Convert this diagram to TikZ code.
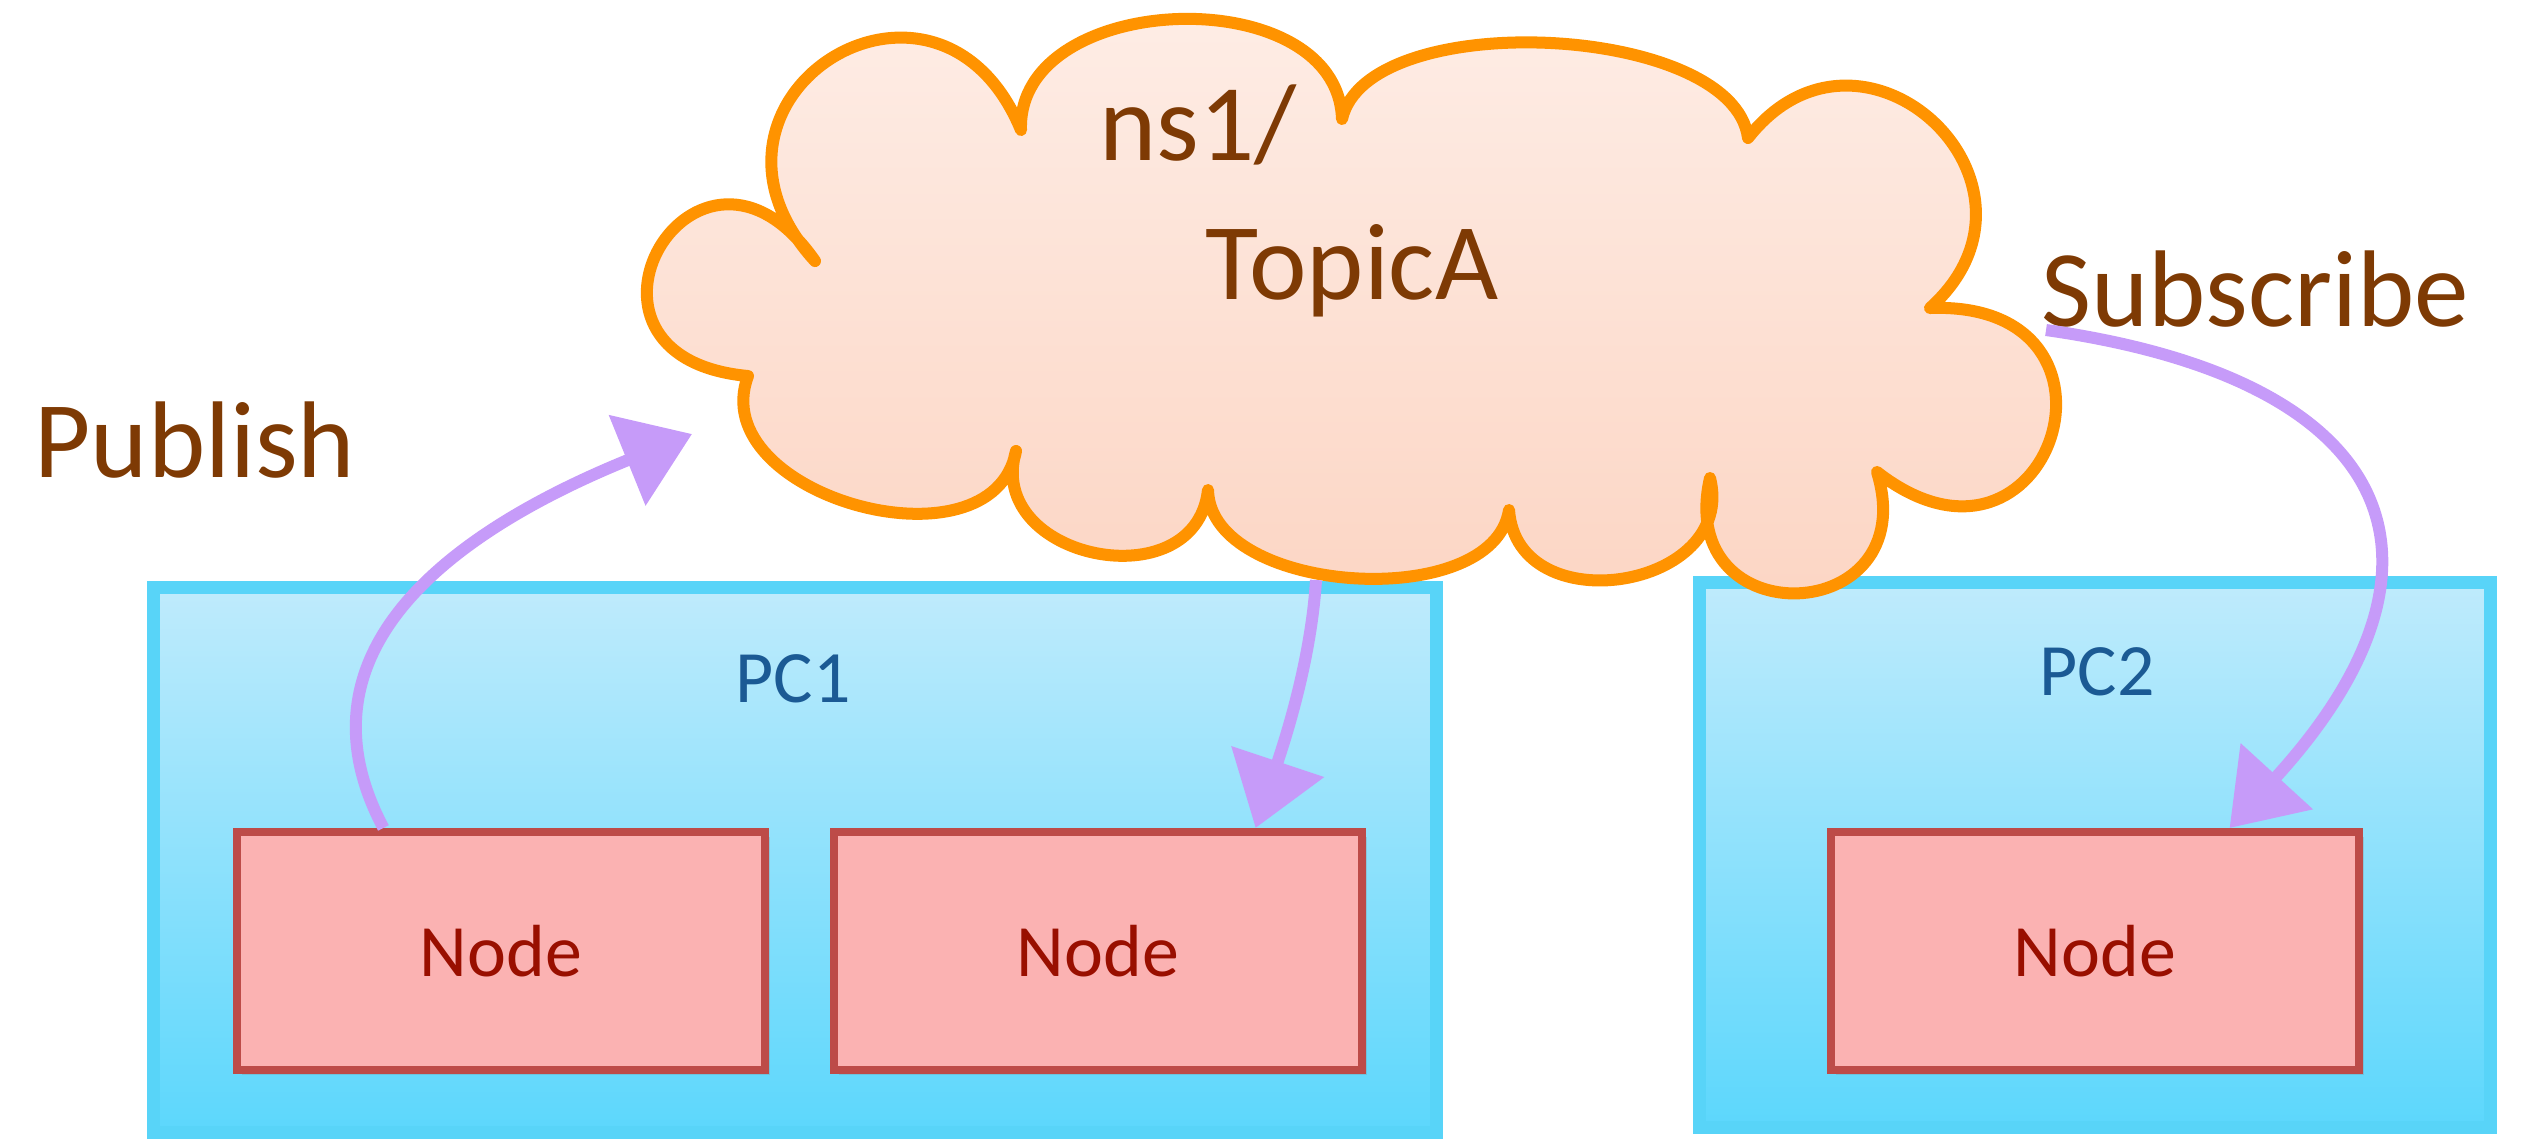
\documentclass[tikz,border=0pt]{standalone}
\usepackage{fontspec}
\setmainfont{Carlito}
\usetikzlibrary{arrows.meta, shadows}
\definecolor{pcline}{HTML}{58D4F8}
\definecolor{pctop}{HTML}{BFEBFC}
\definecolor{pcbottom}{HTML}{5CD7FC}
\definecolor{pctext}{HTML}{1B5A94}
\definecolor{nodeline}{HTML}{BD4B48}
\definecolor{nodefill}{HTML}{FBB2B2}
\definecolor{nodetext}{HTML}{990F00}
\definecolor{cloudline}{HTML}{FF9300}
\definecolor{cloudtop}{HTML}{FEF0EA}
\definecolor{cloudbottom}{HTML}{FCD4C2}
\definecolor{msgtext}{HTML}{7E3A04}
\definecolor{flowcol}{HTML}{C69BF9}

\begin{document}
\begin{tikzpicture}[x=0.01cm, y=-0.01cm,
	pcbox/.style={draw=pcline, line width=0.13cm, top color=pctop, bottom color=pcbottom, minimum height=5.45cm, drop shadow={opacity=0.15, shadow xshift=0.04cm, shadow yshift=-0.04cm}},
	nodebox/.style={draw=nodeline, line width=0.08cm, fill=nodefill, minimum width=5.27cm, minimum height=2.38cm, text=nodetext, font=\fontsize{21}{25}\selectfont, drop shadow={opacity=0.25, shadow xshift=0.05cm, shadow yshift=-0.05cm}},
	pclabel/.style={text=pctext, font=\fontsize{21}{25}\selectfont},
	topic/.style={draw=cloudline, line width=0.12cm, line join=round, top color=cloudtop, bottom color=cloudbottom},
	msg/.style={text=msgtext, font=\fontsize{31}{37}\selectfont, anchor=base},
	flow/.style={draw=flowcol, line width=0.12cm, -{Triangle[length=0.7cm, width=0.95cm]}}]
	\useasboundingbox (0,0) rectangle (2537,1144);
% draw PCs
	\node[pcbox, minimum width=12.83cm] (pc1) at (795,860) {};
	\node[pcbox, minimum width=7.9cm] (pc2) at (2095,855) {};
	\node[pclabel] (pc1label) at (793,679) {PC1};
	\node[pclabel] (pc2label) at (2097,672) {PC2};
% draw Nodes
	\node[nodebox] (node1) at (501,951) {Node};
	\node[nodebox] (node2) at (1098,951) {Node};
	\node[nodebox] (node3) at (2095,951) {Node};
% draw topic cloud
	\draw[topic] (1021,130) to[bend left=90, looseness=1.12] (1342,119)
		to[bend left=80, looseness=0.73] (1748,138)
		to[bend left=95, looseness=1.9] (1930,308)
		to[bend left=110, looseness=3.26] (1877,472)
		to[bend left=105, looseness=2.5] (1710,478)
		to[bend left=95, looseness=1.44] (1509,510)
		to[bend left=85, looseness=0.89] (1208,490)
		to[bend left=95, looseness=1.47] (1016,451)
		to[bend left=95, looseness=1.17] (748,376)
		to[bend left=115, looseness=4] (815,261)
		to[bend left=100, looseness=2.3] (1021,130) -- cycle;
	\coordinate (pubin) at (692,434);
	\coordinate (pc1out) at (1316,580);
	\coordinate (pc2out) at (2046,330);
	\node[msg] (ns) at (1198,160) {ns1/};
	\node[msg] (topicname) at (1352,299) {TopicA};
	\node[msg] (publish) at (195,477) {Publish};
	\node[msg] (subscribe) at (2255,326) {Subscribe};
% draw flows
	\draw[flow] ([xshift=1.5cm]node1.north west) .. controls +(-101,-190) and +(-212,86) .. (pubin);
	\draw[flow] (pc1out) .. controls +(-5,80) and +(30,-90) .. ([xshift=-1.1cm]node2.north east);
	\draw[flow] (pc2out) .. controls +(352,50) and +(243,-266) .. ([xshift=-1.33cm]node3.north east);
\end{tikzpicture}
\end{document}
